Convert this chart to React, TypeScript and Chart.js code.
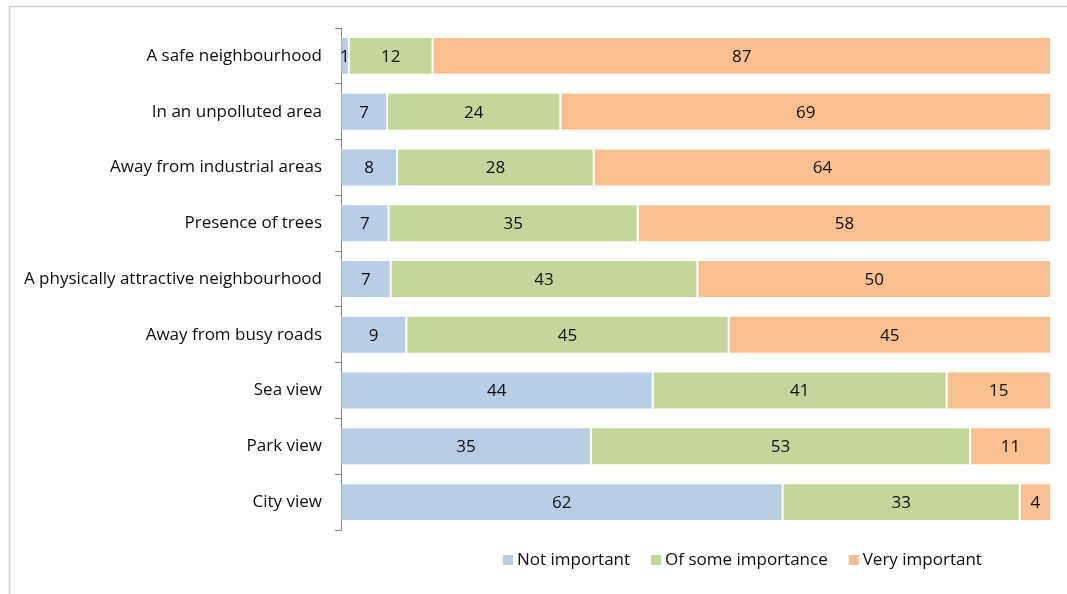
import React, { useEffect, useRef } from "react";
import { Chart, registerables } from "chart.js";

Chart.register(...registerables);

const categories = [
  "A safe neighbourhood",
  "In an unpolluted area",
  "Away from industrial areas",
  "Presence of trees",
  "A physically attractive neighbourhood",
  "Away from busy roads",
  "Sea view",
  "Park view",
  "City view",
];

const notImportant = [1.1, 6.5, 7.9, 6.7, 7.0, 9.2, 43.9, 35.2, 62.2];
const someImportance = [11.8, 24.4, 27.7, 35.1, 43.2, 45.4, 41.4, 53.4, 33.4];
const veryImportant = [87.1, 69.1, 64.4, 58.2, 49.8, 45.4, 14.7, 11.4, 4.4];

const seriesNames = ["Not important", "Of some importance", "Very important"];
const seriesColors = ["#B9CDE5", "#C4D79B", "#FAC090"];

const FONT = "'Open Sans', 'Noto Sans', sans-serif";
const FONT_SIZE = 17;

const framePlugin = {
  id: "frame",
  beforeDraw(chart: any) {
    const ctx = chart.ctx;
    ctx.save();
    ctx.fillStyle = "#ffffff";
    ctx.fillRect(0, 0, chart.width, chart.height);
    ctx.strokeStyle = "#d0d0d0";
    ctx.lineWidth = 1.5;
    ctx.beginPath();
    ctx.moveTo(9.5, chart.height);
    ctx.lineTo(9.5, 6.5);
    ctx.lineTo(chart.width, 6.5);
    ctx.stroke();
    ctx.restore();
  },
};

const valueLabelPlugin = {
  id: "valueLabels",
  afterDatasetsDraw(chart: any) {
    const ctx = chart.ctx;
    ctx.save();
    ctx.font = `${FONT_SIZE}px ${FONT}`;
    ctx.fillStyle = "#0d0d0d";
    ctx.textAlign = "center";
    ctx.textBaseline = "middle";
    chart.data.datasets.forEach((ds: any, di: number) => {
      const meta = chart.getDatasetMeta(di);
      meta.data.forEach((bar: any, i: number) => {
        const v = ds.data[i];
        const x = (bar.x + bar.base) / 2;
        ctx.fillText(String(Math.round(v)), x, bar.y + 1);
      });
    });
    ctx.restore();
  },
};

const legendPlugin = {
  id: "customLegend",
  afterDraw(chart: any) {
    const ctx = chart.ctx;
    ctx.save();
    ctx.font = `${FONT_SIZE}px ${FONT}`;
    ctx.textBaseline = "middle";
    ctx.textAlign = "left";
    let x = 503;
    const y = 560;
    seriesNames.forEach((name, i) => {
      ctx.fillStyle = seriesColors[i];
      ctx.fillRect(x, y - 5, 10, 10);
      ctx.fillStyle = "#0d0d0d";
      ctx.fillText(name, x + 14, y);
      x += 14 + ctx.measureText(name).width + 21;
    });
    ctx.restore();
  },
};

export default function App() {
  const ref = useRef<HTMLCanvasElement | null>(null);

  useEffect(() => {
    if (!ref.current) return;
    const seriesData = [notImportant, someImportance, veryImportant];
    const chart = new Chart(ref.current, {
      type: "bar",
      data: {
        labels: categories,
        datasets: seriesData.map((d, i) => ({
          label: seriesNames[i],
          data: d,
          backgroundColor: seriesColors[i],
          borderColor: "rgba(255,255,255,0.3)",
          borderWidth: 1,
          borderSkipped: false,
          barPercentage: 0.68,
          categoryPercentage: 1,
        })),
      },
      options: {
        indexAxis: "y",
        responsive: false,
        animation: false,
        devicePixelRatio: 1,
        layout: { padding: { left: 0, right: 16, top: 28, bottom: 64 } },
        plugins: {
          legend: { display: false },
          tooltip: { enabled: false },
        },
        scales: {
          x: {
            stacked: true,
            min: 0,
            max: 100,
            display: false,
          },
          y: {
            stacked: true,
            afterFit: (scale: any) => {
              scale.width = 341;
            },
            grid: {
              offset: true,
              drawOnChartArea: false,
              drawTicks: true,
              tickLength: 6,
              color: "#868686",
            },
            border: { display: true, color: "#868686", width: 1 },
            ticks: {
              padding: 13,
              color: "#0d0d0d",
              font: { family: FONT, size: FONT_SIZE },
            },
          },
        },
      },
      plugins: [framePlugin, valueLabelPlugin, legendPlugin],
    });
    return () => chart.destroy();
  }, []);

  return (
    <div style={{ position: "absolute", left: 0, top: 0, width: 1067, height: 594 }}>
      <canvas ref={ref} width={1067} height={594} style={{ width: 1067, height: 594, display: "block" }} />
    </div>
  );
}
